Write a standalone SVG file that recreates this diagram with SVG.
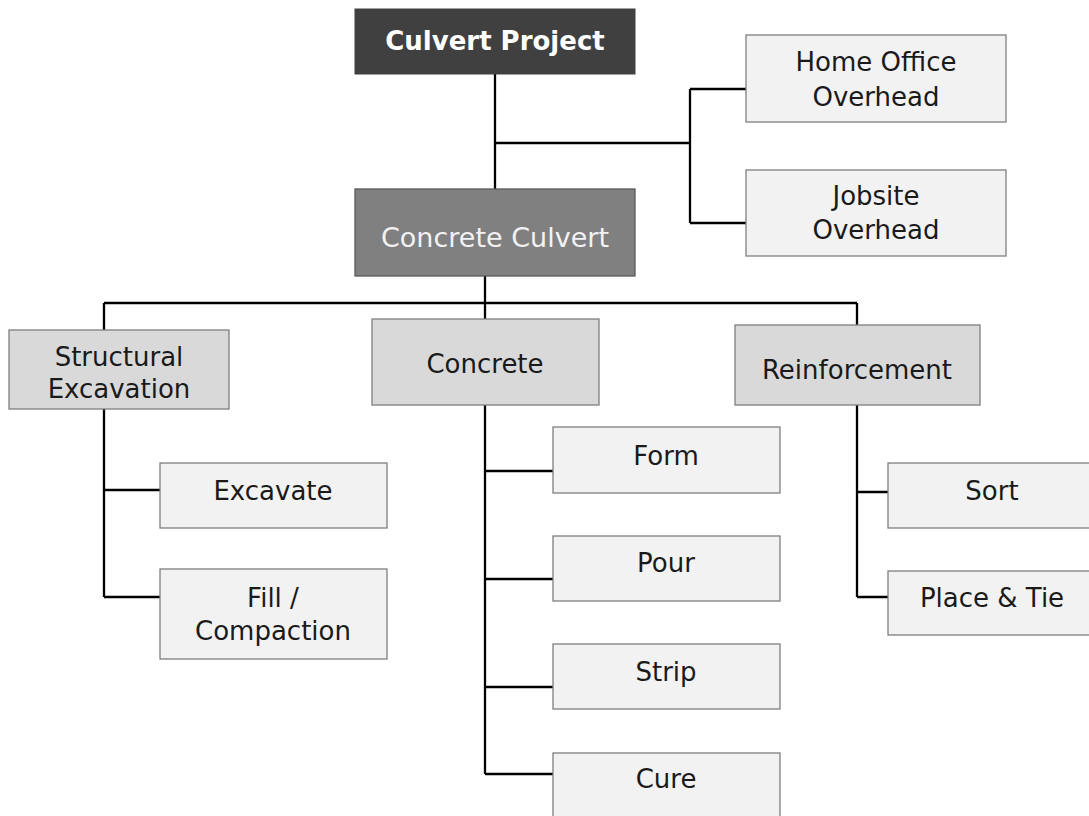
<svg xmlns="http://www.w3.org/2000/svg" width="1089" height="816" viewBox="0 0 1089 816">
<style>
.box{stroke:#7f7f7f;stroke-width:1.3}
.l1{fill:#d9d9d9}
.l2{fill:#f2f2f2}
.t{font-family:"DejaVu Sans","Liberation Sans",sans-serif;font-size:26px;fill:#1a1a1a;text-anchor:middle}
.c{fill:none;stroke:#000;stroke-width:2.3}
</style>
<rect width="1089" height="816" fill="#fff"/>
<g id="connectors">
<path class="c" d="M495 74V190M495 143H690M690 89V223M690 89H746M690 223H746"/>
<path class="c" d="M485 276V319M104 303H857M104 303V330M857 303V325"/>
<path class="c" d="M104 409V597M104 490H160M104 597H160"/>
<path class="c" d="M485 405V774M485 471H553M485 579H553M485 687H553M485 774H553"/>
<path class="c" d="M857 405V597M857 492H888M857 597H888"/>
</g>
<g id="culvert-project"><rect x="355" y="9" width="280" height="65" fill="#404040" stroke="#404040"/><text class="t" x="495" y="50" style="fill:#fff;font-weight:bold;font-size:26px">Culvert Project</text></g>
<g id="home-office"><rect class="box l2" x="746" y="35" width="260" height="87"/><text class="t" x="876" y="71">Home Office</text><text class="t" x="876" y="106">Overhead</text></g>
<g id="jobsite"><rect class="box l2" x="746" y="170" width="260" height="86"/><text class="t" x="876" y="205">Jobsite</text><text class="t" x="876" y="239">Overhead</text></g>
<g id="concrete-culvert"><rect x="355" y="189" width="280" height="87" fill="#808080" stroke="#595959" stroke-width="1.3"/><text class="t" x="495" y="247" style="fill:#f2f2f2;font-size:27px">Concrete Culvert</text></g>
<g id="structural-excavation"><rect class="box l1" x="9" y="330" width="220" height="79"/><text class="t" x="119" y="366">Structural</text><text class="t" x="119" y="398">Excavation</text></g>
<g id="concrete"><rect class="box l1" x="372" y="319" width="227" height="86"/><text class="t" x="485" y="373">Concrete</text></g>
<g id="reinforcement"><rect class="box l1" x="735" y="325" width="245" height="80"/><text class="t" x="857" y="379">Reinforcement</text></g>
<g id="excavate"><rect class="box l2" x="160" y="463" width="227" height="65"/><text class="t" x="273" y="500">Excavate</text></g>
<g id="fill-compaction"><rect class="box l2" x="160" y="569" width="227" height="90"/><text class="t" x="273" y="607">Fill /</text><text class="t" x="273" y="640">Compaction</text></g>
<g id="form"><rect class="box l2" x="553" y="427" width="227" height="66"/><text class="t" x="666" y="465">Form</text></g>
<g id="pour"><rect class="box l2" x="553" y="536" width="227" height="65"/><text class="t" x="666" y="572">Pour</text></g>
<g id="strip"><rect class="box l2" x="553" y="644" width="227" height="65"/><text class="t" x="666" y="681">Strip</text></g>
<g id="cure"><rect class="box l2" x="553" y="753" width="227" height="80"/><text class="t" x="666" y="788">Cure</text></g>
<g id="sort"><rect class="box l2" x="888" y="463" width="220" height="65"/><text class="t" x="992" y="500">Sort</text></g>
<g id="place-tie"><rect class="box l2" x="888" y="571" width="220" height="64"/><text class="t" x="992" y="607">Place &amp; Tie</text></g>
</svg>
